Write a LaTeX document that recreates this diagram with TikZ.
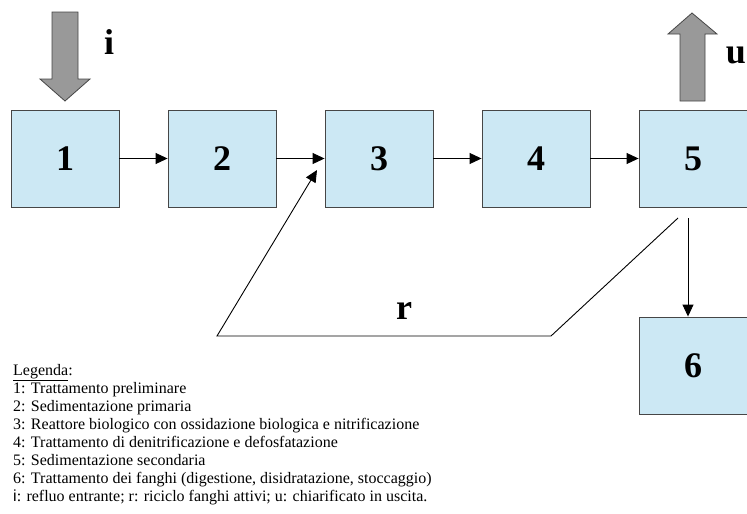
\documentclass[tikz,border=0pt]{standalone}
\usepackage{fontspec}
\setmainfont{Liberation Serif}
\newfontfamily\arialfont{Liberation Sans}
\usetikzlibrary{arrows.meta}
\definecolor{boxfill}{RGB}{204,232,244}
\definecolor{boxline}{RGB}{70,70,70}
\definecolor{fatgray}{RGB}{153,153,153}
\tikzset{
  procbox/.style={draw=boxline, line width=0.9pt, fill=boxfill, minimum width=108pt, minimum height=97pt, inner sep=0pt,
    font=\fontsize{36}{40}\selectfont\bfseries},
  flow/.style={draw=black, line width=0.9pt, -{Triangle[length=12pt,width=11pt]}},
  fatarrow/.style={draw=boxline, line width=0.8pt, fill=fatgray},
  biglabel/.style={font=\fontsize{36}{40}\selectfont\bfseries, inner sep=0pt, anchor=base},
  legline/.style={font=\fontsize{16}{18}\selectfont, inner sep=0pt, anchor=base west}
}
\begin{document}
\begin{tikzpicture}[x=1pt,y=-1pt]
\useasboundingbox (0,0) rectangle (747,514);
% boxes
\node[procbox] (b1) at (65,158.5) {1};
\node[procbox] (b2) at (222,158.5) {2};
\node[procbox] (b3) at (379,158.5) {3};
\node[procbox] (b4) at (536,158.5) {4};
\node[procbox] (b5) at (693,158.5) {5};
\node[procbox] (b6) at (693,365.5) {6};
% horizontal flows
\draw[flow] (b1.east) -- (b2.west);
\draw[flow] (b2.east) -- (b3.west);
\draw[flow] (b3.east) -- (b4.west);
\draw[flow] (b4.east) -- (b5.west);
% 5 -> 6
\coordinate (d5) at (688,218);
\draw[flow] (d5) -- (d5 |- b6.north);
% recycle
\coordinate (r0) at (678,218);
\coordinate (r1) at (551,336);
\coordinate (r2) at (217,336);
\coordinate (r3) at (317,170);
\draw[flow] (r0) -- (r1) -- (r2) -- (r3);
\node[biglabel] (rl) at (404,319) {r};
% input fat arrow
\draw[fatarrow] (52,12) -- (78,12) -- (78,79) -- (90,79) -- (65,101) -- (40,79) -- (52,79) -- cycle;
\node[biglabel] (il) at (109,54) {i};
% output fat arrow
\draw[fatarrow] (680,101) -- (705,101) -- (705,34) -- (717,34) -- (692,13) -- (668,34) -- (680,34) -- cycle;
\node[biglabel] (ul) at (736,63) {u};
% legend
\node[legline] (l0) at (13,375) {\underline{Legenda}:};
\node[legline] (l1) at (13,393) {1: Trattamento preliminare};
\node[legline] (l2) at (13,411) {2: Sedimentazione primaria};
\node[legline] (l3) at (13,429) {3: Reattore biologico con ossidazione biologica e nitrificazione};
\node[legline] (l4) at (13,447) {4: Trattamento di denitrificazione e defosfatazione};
\node[legline] (l5) at (13,465) {5: Sedimentazione secondaria};
\node[legline] (l6) at (13,483) {6: Trattamento dei fanghi (digestione, disidratazione, stoccaggio)};
\node[legline] (l7) at (13,501) {{\arialfont i}: refluo entrante; r: riciclo fanghi attivi; u: chiarificato in uscita.};
\end{tikzpicture}
\end{document}
